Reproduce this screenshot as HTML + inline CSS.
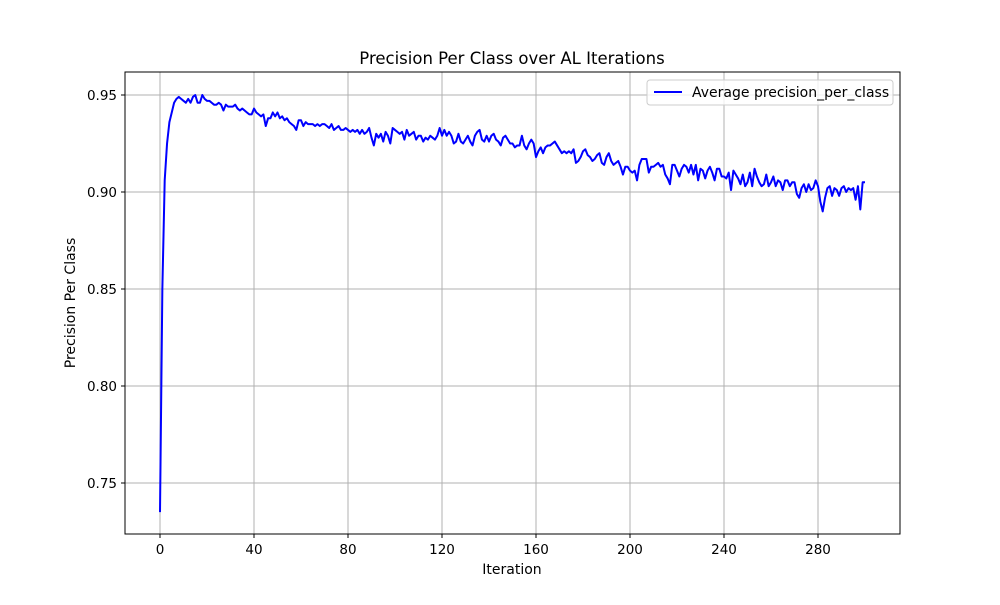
<!DOCTYPE html>
<html><head><meta charset="utf-8"><style>
body{margin:0;background:#fff;font-family:"Liberation Sans","DejaVu Sans",sans-serif}
svg text{font-family:"DejaVu Sans","Liberation Sans",sans-serif}
</style></head><body>
<svg id="chart" width="1000" height="600" xmlns="http://www.w3.org/2000/svg">
<rect width="1000" height="600" fill="#fff"/>
<g id="grid"></g>
<rect x="125" y="72" width="775" height="462" fill="none" stroke="#000" stroke-width="1"/>
<g id="ticks"></g>
<path id="line" fill="none" stroke="#0000ff" stroke-width="2" stroke-linejoin="round"/>
<text x="512" y="64" font-size="16.5" text-anchor="middle">Precision Per Class over AL Iterations</text>
<text x="512" y="574" font-size="14" text-anchor="middle">Iteration</text>
<text x="0" y="0" font-size="14" text-anchor="middle" transform="translate(75,303) rotate(-90)">Precision Per Class</text>
<g>
<rect x="647" y="80" width="246" height="25" rx="3" fill="#fff" fill-opacity="0.8" stroke="#ccc"/>
<line x1="654" y1="92" x2="682" y2="92" stroke="#0000ff" stroke-width="2"/>
<text x="692" y="97" font-size="14">Average precision_per_class</text>
</g>
</svg>
<script>
const xTicks=[0,40,80,120,160,200,240,280];
const yTicks=[0.75,0.80,0.85,0.90,0.95];
const yLabels=["0.75","0.80","0.85","0.90","0.95"];
const precision=[.735,.85,.906,.925,.936,.941,.946,.948,.949,.948,
.947,.946,.948,.946,.949,.950,.946,.946,.950,.948,
.947,.947,.946,.945,.945,.946,.945,.942,.945,.944,
.944,.944,.945,.943,.942,.943,.942,.941,.940,.940,
.943,.941,.940,.939,.940,.934,.938,.938,.941,.939,
.941,.938,.939,.937,.938,.936,.935,.934,.932,.937,
.937,.934,.936,.935,.935,.935,.934,.935,.934,.935,
.935,.934,.933,.935,.932,.933,.934,.932,.932,.933,
.932,.931,.932,.931,.932,.930,.932,.930,.931,.933,
.928,.924,.930,.928,.930,.926,.931,.929,.925,.933,
.932,.931,.930,.931,.927,.932,.929,.930,.931,.927,
.929,.929,.926,.928,.927,.929,.928,.927,.929,.933,
.929,.932,.929,.931,.929,.925,.926,.930,.926,.925,
.927,.929,.926,.924,.929,.931,.932,.927,.926,.929,
.926,.929,.930,.927,.926,.924,.928,.929,.927,.925,
.925,.923,.924,.924,.929,.924,.922,.925,.927,.925,
.918,.921,.923,.920,.923,.924,.924,.925,.926,.924,
.922,.920,.921,.920,.921,.920,.922,.915,.916,.918,
.921,.922,.919,.918,.916,.917,.919,.920,.915,.914,
.918,.920,.916,.914,.915,.916,.913,.909,.913,.913,
.911,.910,.911,.906,.914,.917,.917,.917,.910,.913,
.913,.914,.915,.913,.914,.909,.907,.904,.914,.914,
.911,.908,.912,.914,.913,.910,.914,.909,.914,.906,
.912,.911,.907,.911,.913,.910,.906,.912,.912,.908,
.908,.907,.910,.901,.911,.909,.907,.904,.909,.903,
.905,.910,.903,.912,.908,.905,.903,.904,.909,.903,
.905,.908,.903,.906,.905,.901,.906,.906,.903,.905,
.905,.899,.897,.902,.904,.900,.904,.901,.902,.906,
.903,.895,.890,.897,.902,.903,.898,.902,.901,.898,
.902,.903,.900,.902,.901,.902,.896,.903,.891,.905,.905];
const X=v=>160+v*(818-160)/280;
const Y=v=>192-(v-0.90)*(192-95)/0.05;
const NS="http://www.w3.org/2000/svg";
const grid=document.getElementById('grid'),ticks=document.getElementById('ticks');
function mk(tag,attrs,parent){const e=document.createElementNS(NS,tag);for(const k in attrs)e.setAttribute(k,attrs[k]);parent.appendChild(e);return e;}
xTicks.forEach(t=>{const x=X(t);
 const g=mk('line',{x1:x,x2:x,y1:72,y2:534,stroke:'#b0b0b0','stroke-width':1},grid);
 
 
 mk('line',{x1:x,x2:x,y1:534,y2:538,stroke:'#000'},ticks);
 const tx=mk('text',{x:x,y:554,'font-size':13.5,'text-anchor':'middle'},ticks);tx.textContent=t;
 
 
});
yTicks.forEach((t,i)=>{const y=Y(t);
 const g=mk('line',{x1:125,x2:900,y1:y,y2:y,stroke:'#b0b0b0','stroke-width':1},grid);
 
 
 mk('line',{x1:121,x2:125,y1:y,y2:y,stroke:'#000'},ticks);
 const tx=mk('text',{x:117,y:y+5,'font-size':13.5,'text-anchor':'end'},ticks);tx.textContent=yLabels[i];
 
 
});
document.getElementById('line').setAttribute('d',precision.map((v,i)=>(i?'L':'M')+X(i).toFixed(2)+','+Y(v).toFixed(2)).join(''));
</script>
</body></html>
